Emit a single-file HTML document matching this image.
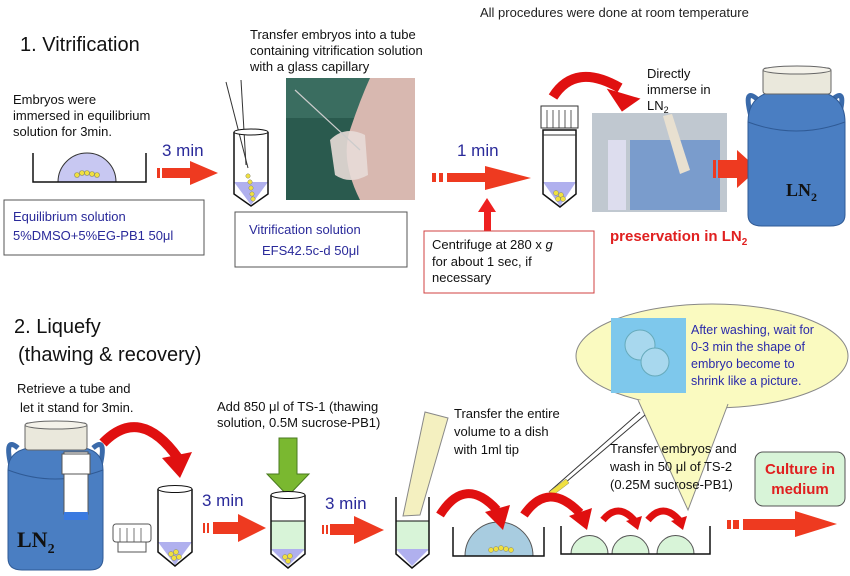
<!DOCTYPE html>
<html><head><meta charset="utf-8"><style>
html,body{margin:0;padding:0;background:#fff}
svg{display:block}
text{font-family:"Liberation Sans",sans-serif}
</style></head><body>
<svg width="850" height="576" viewBox="0 0 850 576" xmlns="http://www.w3.org/2000/svg">
<rect width="850" height="576" fill="#fff"/>

<!-- SECTION 1 -->
<text x="20" y="51" font-size="20" fill="#111">1. Vitrification</text>
<text x="480" y="17" font-size="13" fill="#222">All procedures were done at room temperature</text>
<text font-size="13" fill="#111"><tspan x="250" y="39">Transfer embryos into a tube</tspan><tspan x="250" y="55">containing vitrification solution</tspan><tspan x="250" y="71">with a glass capillary</tspan></text>
<text font-size="13" fill="#111"><tspan x="13" y="104">Embryos were</tspan><tspan x="13" y="120">immersed in equilibrium</tspan><tspan x="13" y="136">solution for 3min.</tspan></text>

<path d="M58,182 A29,29 0 0 1 116,182 Z" fill="#c8c8f2" stroke="#333" stroke-width="1"/>
<g fill="#f0e040" stroke="#886" stroke-width="0.6"><circle cx="77" cy="175" r="2.5"/><circle cx="82" cy="173" r="2.5"/><circle cx="87" cy="173" r="2.5"/><circle cx="92" cy="174" r="2.5"/><circle cx="97" cy="175" r="2.5"/></g>
<path d="M33,153 V182 H146 V153" fill="none" stroke="#111" stroke-width="1.5"/>

<text x="162" y="156" font-size="17" fill="#2a2a9a">3 min</text>
<g fill="#ee3a20"><rect x="157" y="168" width="3" height="10"/><rect x="162" y="168" width="28" height="10"/><path d="M190,161 L218,173 L190,185z"/></g>

<rect x="4" y="200" width="200" height="55" fill="#fff" stroke="#555"/>
<text font-size="13" fill="#2a2a9a"><tspan x="13" y="221">Equilibrium  solution</tspan><tspan x="13" y="240">5%DMSO+5%EG-PB1  50μl</tspan></text>

<line x1="226" y1="82" x2="248" y2="168" stroke="#333"/>
<line x1="241" y1="80" x2="246" y2="165" stroke="#333"/>
<path d="M234,182 H268 L251,205 Z" fill="#b0b0ee"/>
<path d="M234,132 V194 L251,206 L268,194 V132" fill="none" stroke="#111" stroke-width="1.5"/>
<ellipse cx="251" cy="132" rx="17" ry="3" fill="#fff" stroke="#111"/>
<g fill="#f0e040" stroke="#886" stroke-width="0.5"><circle cx="248" cy="176" r="2.2"/><circle cx="250" cy="182" r="2.2"/><circle cx="251" cy="188" r="2.2"/><circle cx="252" cy="194" r="2.2"/><circle cx="253" cy="199" r="2.2"/></g>

<rect x="286" y="78" width="129" height="122" fill="#2a5a4e"/>
<rect x="286" y="78" width="129" height="40" fill="#3a6d60"/>
<path d="M370,78 H415 V200 H360 Q340,160 350,130 Q360,100 370,78z" fill="#d8b8b0"/>
<path d="M330,140 Q345,125 365,135 L368,175 Q350,185 335,175z" fill="#e8dcd8" opacity="0.9"/>
<line x1="295" y1="90" x2="360" y2="150" stroke="#ccc" stroke-width="1.2"/>

<rect x="235" y="212" width="172" height="55" fill="#fff" stroke="#555"/>
<text font-size="13" fill="#2a2a9a"><tspan x="249" y="234">Vitrification  solution</tspan><tspan x="262" y="255">EFS42.5c-d   50μl</tspan></text>

<text x="457" y="156" font-size="17" fill="#2a2a9a">1 min</text>
<g fill="#ee3a20"><rect x="432" y="173" width="4" height="9"/><rect x="439" y="173" width="4" height="9"/><rect x="447" y="173" width="38" height="9"/><path d="M485,166 L531,178 L485,190z"/></g>
<g fill="#ee2020"><rect x="484" y="210" width="7" height="22"/><path d="M478,212 L487,198 L496,212z"/></g>
<rect x="424" y="231" width="170" height="62" fill="#fff" stroke="#d04040"/>
<text font-size="13" fill="#111"><tspan x="432" y="249">Centrifuge at 280 x <tspan font-style="italic">g</tspan></tspan><tspan x="432" y="266">for about 1 sec, if</tspan><tspan x="432" y="282">necessary</tspan></text>

<rect x="541" y="106" width="37" height="22" fill="#fff" stroke="#333"/>
<g stroke="#333" stroke-width="0.8"><line x1="547" y1="110" x2="547" y2="128"/><line x1="553" y1="110" x2="553" y2="128"/><line x1="559" y1="110" x2="559" y2="128"/><line x1="565" y1="110" x2="565" y2="128"/><line x1="571" y1="110" x2="571" y2="128"/></g>
<path d="M543,182 H576 L560,206 Z" fill="#b0b0ee"/>
<path d="M543,130 V194 L560,207 L576,194 V130 Z" fill="none" stroke="#111" stroke-width="1.5"/>
<line x1="543" y1="135" x2="576" y2="135" stroke="#333"/>
<g fill="#f0e040" stroke="#886" stroke-width="0.5"><circle cx="556" cy="193" r="2.5"/><circle cx="561" cy="195" r="2.5"/><circle cx="558" cy="199" r="2.5"/><circle cx="563" cy="199" r="2.5"/></g>

<path d="M553,97 Q575,62 620,88" fill="none" stroke="#e01010" stroke-width="10"/>
<path d="M605,92 L640,96 L624,112 Z" fill="#e01010" transform="rotate(10 625 100)"/>

<rect x="592" y="113" width="135" height="99" fill="#c0c8d0"/>
<rect x="630" y="140" width="90" height="70" fill="#7a9ccc"/>
<rect x="608" y="140" width="18" height="70" fill="#dde"/>
<path d="M663,116 L672,114 L690,170 L680,174 Z" fill="#e8e0d0"/>

<text font-size="13" fill="#111"><tspan x="647" y="78">Directly</tspan><tspan x="647" y="94">immerse in</tspan><tspan x="647" y="110">LN</tspan><tspan font-size="9" dy="3">2</tspan></text>

<g fill="#ee3a20"><rect x="713" y="160" width="3" height="18"/><rect x="718" y="160" width="22" height="18"/><path d="M737,150 L758,169 L737,188z"/></g>

<path d="M758,100 Q742,85 752,120" fill="none" stroke="#3a6aaa" stroke-width="5"/>
<path d="M832,100 Q848,85 838,120" fill="none" stroke="#3a6aaa" stroke-width="5"/>
<path d="M748,122 Q748,98 770,92 H822 Q845,98 845,122 V215 Q845,226 830,226 H762 Q748,226 748,215 Z" fill="#4a7ec2" stroke="#2f5a95"/>
<path d="M748,122 Q796,140 845,122" fill="none" stroke="#2f5a95"/>
<rect x="763" y="68" width="68" height="26" rx="3" fill="#eae8dc" stroke="#666"/>
<ellipse cx="797" cy="70" rx="34" ry="4" fill="#f4f2ea" stroke="#666"/>
<text x="786" y="196" font-size="18" font-weight="bold" fill="#111" style="font-family:'Liberation Serif',serif">LN<tspan font-size="12" dy="5">2</tspan></text>

<text x="610" y="241" font-size="15" font-weight="bold" fill="#e02020">preservation in LN<tspan font-size="10" dy="4">2</tspan></text>

<!-- SECTION 2 -->
<text x="14" y="333" font-size="20" fill="#111">2.    Liquefy</text>
<text x="18" y="361" font-size="20" fill="#111">(thawing &amp; recovery)</text>
<text font-size="13" fill="#111"><tspan x="17" y="393">Retrieve a tube and</tspan><tspan x="20" y="412">let it stand for 3min.</tspan></text>

<path d="M18,448 Q3,435 12,470" fill="none" stroke="#3a6aaa" stroke-width="5"/>
<path d="M93,448 Q108,435 99,470" fill="none" stroke="#3a6aaa" stroke-width="5"/>
<path d="M8,470 Q8,452 28,448 H85 Q103,452 103,470 V558 Q103,570 90,570 H22 Q8,570 8,558 Z" fill="#4a7ec2" stroke="#2f5a95"/>
<path d="M8,470 Q55,488 103,470" fill="none" stroke="#2f5a95"/>
<rect x="25" y="423" width="62" height="27" rx="3" fill="#eae8dc" stroke="#666"/>
<ellipse cx="56" cy="425" rx="31" ry="4" fill="#f4f2ea" stroke="#666"/>
<rect x="64" y="452" width="24" height="62" fill="#fff" stroke="#555"/>
<rect x="64" y="512" width="24" height="8" fill="#3a7ae0"/>
<rect x="62" y="454" width="28" height="20" fill="#fff" stroke="#555"/>
<text x="17" y="547" font-size="22" font-weight="bold" fill="#111" style="font-family:'Liberation Serif',serif">LN<tspan font-size="14" dy="6">2</tspan></text>

<path d="M103,443 Q140,405 178,458" fill="none" stroke="#e01010" stroke-width="10"/>
<path d="M162,458 L192,452 L180,478 Z" fill="#e01010"/>

<rect x="113" y="524" width="38" height="18" rx="3" fill="#fff" stroke="#555"/>
<g stroke="#555" stroke-width="0.8"><line x1="120" y1="528" x2="120" y2="542"/><line x1="127" y1="528" x2="127" y2="542"/><line x1="134" y1="528" x2="134" y2="542"/><line x1="141" y1="528" x2="141" y2="542"/></g>
<rect x="118" y="542" width="28" height="10" fill="#fff" stroke="#555"/>

<path d="M158,542 H192 L175,565 Z" fill="#b0b0ee"/>
<path d="M158,489 V552 L175,566 L192,552 V489" fill="none" stroke="#111" stroke-width="1.5"/>
<ellipse cx="175" cy="489" rx="17" ry="3.5" fill="#fff" stroke="#111"/>
<g fill="#f0e040" stroke="#886" stroke-width="0.5"><circle cx="171" cy="554" r="2.5"/><circle cx="176" cy="552" r="2.5"/><circle cx="174" cy="558" r="2.5"/><circle cx="179" cy="557" r="2.5"/></g>

<text x="202" y="506" font-size="17" fill="#2a2a9a">3 min</text>
<g fill="#ee3a20"><rect x="203" y="523" width="2" height="10"/><rect x="207" y="523" width="2" height="10"/><rect x="213" y="522" width="27" height="12"/><path d="M238,514 L266,528 L238,542z"/></g>

<text font-size="13" fill="#111"><tspan x="217" y="411">Add 850 μl of TS-1  (thawing</tspan><tspan x="217" y="427">solution, 0.5M sucrose-PB1)</tspan></text>
<path d="M279,438 H297 V474 H309 L288,496 L267,474 H279 Z" fill="#7ab830" stroke="#4a7a20"/>

<rect x="271" y="521" width="34" height="30" fill="#d8f4d8"/>
<path d="M271,549 H305 L288,566 Z" fill="#b0b0ee"/>
<path d="M271,495 V554 L288,568 L305,554 V495" fill="none" stroke="#111" stroke-width="1.5"/>
<line x1="271" y1="521" x2="305" y2="521" stroke="#111"/>
<ellipse cx="288" cy="495" rx="17" ry="3.5" fill="#fff" stroke="#111"/>
<g fill="#f0e040" stroke="#886" stroke-width="0.5"><circle cx="285" cy="557" r="2.5"/><circle cx="290" cy="556" r="2.5"/><circle cx="288" cy="561" r="2.5"/></g>

<text x="325" y="509" font-size="17" fill="#2a2a9a">3 min</text>
<g fill="#ee3a20"><rect x="322" y="525" width="2" height="9"/><rect x="326" y="525" width="2" height="9"/><rect x="330" y="524" width="26" height="11"/><path d="M354,516 L384,530 L354,544z"/></g>

<rect x="396" y="521" width="33" height="30" fill="#d8f4d8"/>
<path d="M396,549 H429 L412,566 Z" fill="#b0b0ee"/>
<path d="M396,497 V554 L412,568 L429,554 V497" fill="none" stroke="#111" stroke-width="1.5"/>
<line x1="396" y1="521" x2="429" y2="521" stroke="#111"/>
<path d="M425,412 L448,418 L420,515 L403,516 Z" fill="#f4f0c0" stroke="#888"/>

<text font-size="13" fill="#111"><tspan x="454" y="418">Transfer the entire</tspan><tspan x="454" y="436">volume to a dish</tspan><tspan x="454" y="454">with 1ml tip</tspan></text>

<!-- bubble -->
<ellipse cx="712" cy="356" rx="136" ry="52" fill="#fafac0" stroke="#888"/>
<path d="M638,400 L688,510 L728,404" fill="#fafac0" stroke="#888"/>
<path d="M641,397 L727,400" stroke="#fafac0" stroke-width="7"/>
<rect x="611" y="318" width="75" height="75" fill="#7ec8ec"/>
<circle cx="640" cy="345" r="15" fill="#a8d8ee" stroke="#6ab"/>
<circle cx="655" cy="362" r="14" fill="#a8d8ee" stroke="#6ab"/>
<text font-size="12.5" fill="#2a2aaa"><tspan x="691" y="334">After washing, wait for</tspan><tspan x="691" y="351">0-3 min the shape of</tspan><tspan x="691" y="368">embryo become to</tspan><tspan x="691" y="385">shrink like a picture.</tspan></text>

<line x1="549" y1="492" x2="640" y2="412" stroke="#333"/>
<line x1="552" y1="494" x2="645" y2="415" stroke="#333"/>
<path d="M549,492 L566,479 L569,483 L552,496 Z" fill="#f0e040" stroke="#886" stroke-width="0.5"/>

<text font-size="13" fill="#111"><tspan x="610" y="453">Transfer embryos and</tspan><tspan x="610" y="471">wash in 50 μl of TS-2</tspan><tspan x="610" y="489">(0.25M sucrose-PB1)</tspan></text>

<rect x="755" y="452" width="90" height="54" rx="8" fill="#d8f4d8" stroke="#555"/>
<text x="800" y="474" font-size="15" font-weight="bold" fill="#e02020" text-anchor="middle">Culture in</text>
<text x="800" y="494" font-size="15" font-weight="bold" fill="#e02020" text-anchor="middle">medium</text>

<path d="M465,556 A32,32 0 0 1 533,556 Z" fill="#a8cce0" stroke="#555"/>
<g fill="#f0e040" stroke="#886" stroke-width="0.5"><circle cx="491" cy="550" r="2.5"/><circle cx="496" cy="549" r="2.5"/><circle cx="501" cy="548" r="2.5"/><circle cx="506" cy="549" r="2.5"/><circle cx="511" cy="550" r="2.5"/></g>
<path d="M453,527 V556 H544 V527" fill="none" stroke="#111" stroke-width="1.5"/>
<path d="M440,515 Q465,475 497,510" fill="none" stroke="#e01010" stroke-width="9"/>
<path d="M485,512 L510,505 L503,530 Z" fill="#e01010"/>

<g fill="#d8f4d8" stroke="#555"><path d="M571,554 A18,18 0 0 1 608,554 Z"/><path d="M612,554 A18,18 0 0 1 649,554 Z"/><path d="M657,554 A18,18 0 0 1 694,554 Z"/></g>
<path d="M561,526 V554 H710 V526" fill="none" stroke="#111" stroke-width="1.5"/>
<path d="M524,515 Q548,480 580,513" fill="none" stroke="#e01010" stroke-width="9"/>
<path d="M569,516 L592,508 L587,530 Z" fill="#e01010"/>
<path d="M603,520 Q618,502 634,520" fill="none" stroke="#e01010" stroke-width="7"/>
<path d="M626,521 L642,516 L638,530 Z" fill="#e01010"/>
<path d="M648,520 Q663,502 679,520" fill="none" stroke="#e01010" stroke-width="7"/>
<path d="M671,521 L687,516 L683,530 Z" fill="#e01010"/>

<g fill="#ee3a20"><rect x="727" y="520" width="4" height="9"/><rect x="733" y="520" width="6" height="9"/><rect x="743" y="519" width="55" height="11"/><path d="M795,511 L837,524 L795,537z"/></g>
</svg>
</body></html>
